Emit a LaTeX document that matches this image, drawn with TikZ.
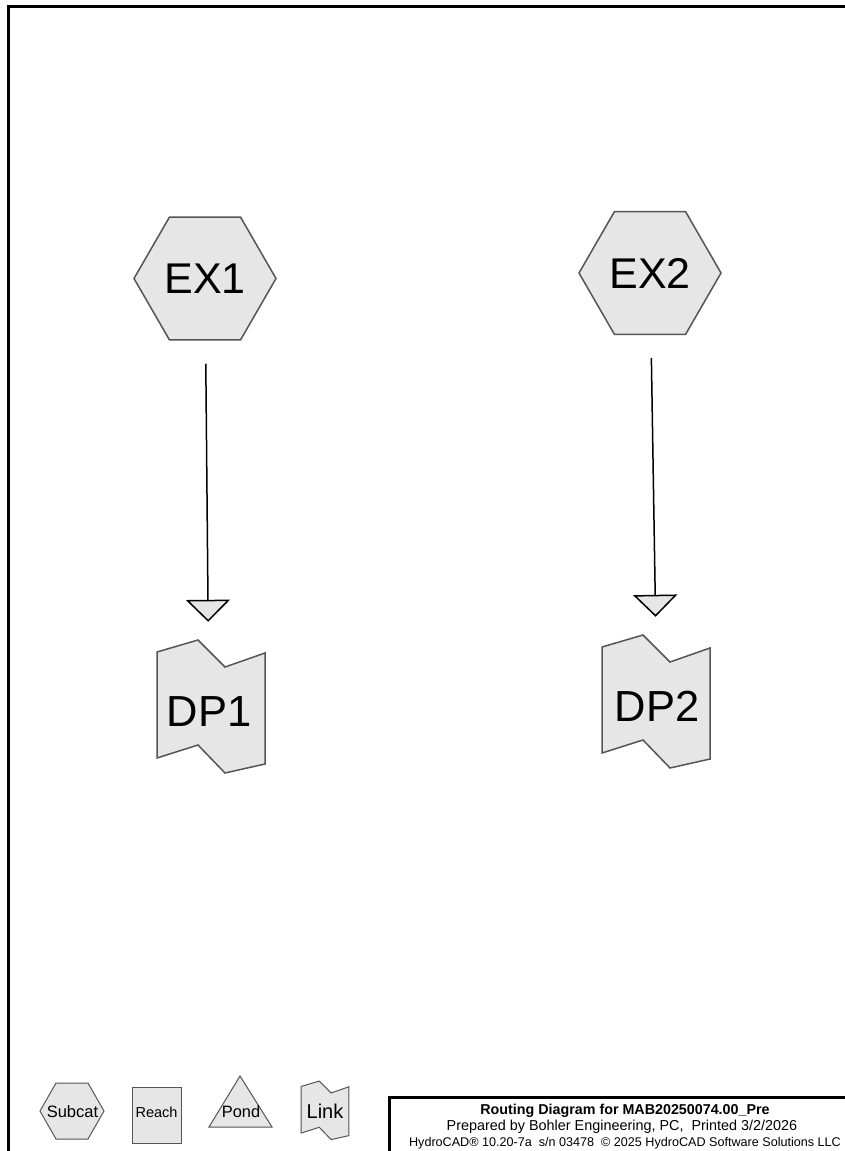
\documentclass[tikz,border=0pt]{standalone}
\usepackage{fontspec}
\setmainfont{Liberation Sans}
\usepackage{xcolor}
\usetikzlibrary{shapes.geometric, arrows.meta}

\definecolor{shapefill}{HTML}{E6E6E6}
\definecolor{shapeline}{HTML}{555555}
\newcommand{\linkpath}{(-54,-56) -- (-13,-68) -- (14,-41) -- (54,-55) -- (54,56) -- (14,65) -- (-13,37) -- (-54,50) -- cycle}

\begin{document}
\begin{tikzpicture}[x=1pt,y=-1pt]
    \tikzstyle{subcat}=[shape=regular polygon,regular polygon sides=6,draw=shapeline,fill=shapefill,line width=1.5pt,inner sep=0pt,minimum size=142pt,font=\fontsize{43}{43}\selectfont]
    \tikzstyle{linkshape}=[draw=shapeline,fill=shapefill,line width=1.5pt]
    \tikzstyle{linktext}=[inner sep=0pt,minimum width=108pt,minimum height=136pt,font=\fontsize{43.5}{43.5}\selectfont]
    \tikzstyle{flow}=[-{Triangle[width=44pt,length=22pt,fill=shapefill]},line width=1.5pt,shorten <=23pt,shorten >=21.5pt]
    \tikzstyle{frame}=[line width=3pt]

    \useasboundingbox (0,0) rectangle (844,1151);
    \fill[white] (0,0) rectangle (844,1151);
    \draw[frame] (8.5,1160) -- (8.5,6.5) -- (850,6.5);

    % subcatchments
    \node[subcat] (EX1) at (205,278.5) {EX1};
    \node[subcat] (EX2) at (650,273) {EX2};

    % links
    \filldraw[linkshape, shift={(211,708)}] \linkpath;
    \filldraw[linkshape, shift={(656,703)}] \linkpath;
    \node[linktext] (DP1) at (209,711.5) {DP1};
    \node[linktext] (DP2) at (657,706.5) {DP2};

    \draw[flow] (EX1) -- (DP1);
    \draw[flow] (EX2) -- (DP2);

    % legend
    \filldraw[linkshape, line width=1pt] (40,1111) -- (56,1083) -- (88,1083) -- (104,1111) -- (88,1139) -- (56,1139) -- cycle;
    \node[font=\fontsize{16.5}{16.5}\selectfont] (Subcat) at (72.5,1112) {Subcat};
    \filldraw[linkshape, line width=1pt] (132,1087) rectangle (181,1143);
    \node[font=\fontsize{14.5}{14.5}\selectfont] (Reach) at (156.5,1112.5) {Reach};
    \filldraw[linkshape, line width=1pt] (240,1076) -- (272,1127) -- (209,1127) -- cycle;
    \node[font=\fontsize{16.4}{16.4}\selectfont] (Pond) at (241,1112) {Pond};
    \filldraw[linkshape, line width=1pt, shift={(325,1111)}, scale=0.44] \linkpath;
    \node[font=\fontsize{20}{20}\selectfont] (Link) at (325,1111) {Link};

    % title block
    \draw[frame] (389,1160) -- (389,1097.5) -- (850,1097.5);
    \node[anchor=base, inner sep=0pt, font=\bfseries\fontsize{14.3}{14.3}\selectfont] (title) at (625,1114.5) {Routing Diagram for MAB20250074.00\_Pre};
    \node[anchor=base, inner sep=0pt, font=\fontsize{14.4}{14.4}\selectfont] (prepared) at (622,1130) {Prepared by Bohler Engineering, PC,\ \ Printed 3/2/2026};
    \node[anchor=base, inner sep=0pt, font=\fontsize{12.6}{12.6}\selectfont] (version) at (625,1146) {HydroCAD® 10.20-7a\ \ s/n 03478\ \ © 2025 HydroCAD Software Solutions LLC};
\end{tikzpicture}
\end{document}
